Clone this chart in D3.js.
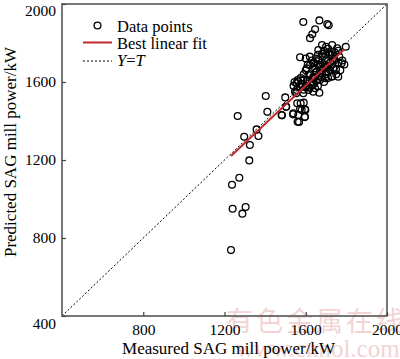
<!DOCTYPE html>
<html><head><meta charset="utf-8">
<script src="https://cdn.jsdelivr.net/npm/d3@7"></script>
<style>body{margin:0;background:#fff}svg{display:block}</style>
</head><body>
<svg id="c" width="400" height="359"></svg>
<script>
const measured = [1232,1240,1304,1288,1237,1273,1322,1325,1297,1367,1358,1265,1403,1411,1481,1499,1503,1539,1560,1563,1596,1580,1596,1558,1575,1590,1553,1537,1567,1595,1572,1598,1504,1483,
1588,1667,1706,1713,1646,1632,1621,1572,
1662,1700,1714,1755,1797,1728,1683,1765,1777,1749,1760,1728,1711,1662,1637,1621,1605,1646,1670,1695,1654,1678,1695,1670,1637,1613,1588,1563,1555,1605,1629,1572,1646,1667,1637,1613,1601,1555,1547,1588,
1640,1660,1680,1700,1720,1690,1710,1730,1740,1650,1670,1700,1720,1735,1620,1640,1660,1680,1700,1610,1630,1650,1600,1620,1580,1590,1700,1680,1720,1745,1760,1690,1740,1760,1780,1790,1770,1750,1730,1710,1690,1660,1640,1650,1630,1610,1600,1590,1575,1560,1540,1545,1620,1600,1660,1710,1730,1680];
const predicted = [738,950,959,925,1073,1109,1198,1277,1319,1323,1357,1426,1528,1447,1431,1521,1473,1440,1396,1431,1422,1456,1460,1491,1491,1494,1542,1434,1395,1420,1463,1456,1473,1429,
1908,1916,1897,1891,1870,1845,1825,1727,
1764,1781,1752,1773,1781,1738,1730,1730,1696,1665,1627,1627,1653,1713,1696,1687,1670,1670,1679,1687,1653,1645,1619,1610,1627,1636,1610,1602,1593,1593,1585,1576,1568,1545,1550,1559,1573,1559,1550,1542,
1700,1690,1700,1710,1700,1675,1680,1690,1710,1650,1660,1650,1660,1670,1640,1620,1630,1625,1640,1610,1600,1605,1580,1570,1590,1560,1740,1745,1745,1750,1760,1760,1720,1700,1710,1690,1660,1640,1630,1620,1600,1580,1590,1720,1710,1690,1660,1640,1620,1610,1580,1600,1730,1720,1740,1770,1790,1790];
const fitLine = [[1232,1220],[1790,1768]];
const identityLine = [[400,400],[2000,2000]];
const xTicks = [800,1200,1600,2000];
const yTicks = [400,800,1200,1600,2000];
const legendLabels = ["Data points","Best linear fit","Y=T"];

const svg = d3.select("#c");
const L=62,R=387,T=4,B=316;
const x = d3.scaleLinear().domain([400,2000]).range([L,R]);
const y = d3.scaleLinear().domain([400,2000]).range([B,T]);
const serif = "'Liberation Serif','Times New Roman',serif";

// watermark
svg.append("text").attr("x",226).attr("y",331).attr("font-family","'Noto Sans CJK SC',sans-serif")
  .attr("font-size",27).attr("fill","#f2d4d4").attr("letter-spacing",3).text("有色金属在线");
svg.append("text").attr("x",236).attr("y",357).attr("font-family",serif)
  .attr("font-size",25).attr("fill","#f2d4d4").text("www.cnnol.com");

// identity line
const line = d3.line().x(d=>x(d[0])).y(d=>y(d[1]));
svg.append("path").datum(identityLine).attr("d",line).attr("stroke","#000").attr("stroke-width",1)
  .attr("stroke-dasharray","2,2").attr("fill","none");

// points
const pts = measured.map((m,i)=>[m,predicted[i]]);
svg.append("g").selectAll("circle").data(pts).join("circle")
  .attr("cx",d=>x(d[0])).attr("cy",d=>y(d[1])).attr("r",3.4)
  .attr("fill","none").attr("stroke","#000").attr("stroke-width",1.3);

// fit line
svg.append("path").datum(fitLine).attr("d",line).attr("stroke","#c0282a").attr("stroke-width",2).attr("fill","none");

// frame
svg.append("rect").attr("x",L).attr("y",T).attr("width",R-L).attr("height",B-T)
  .attr("fill","none").attr("stroke","#555").attr("stroke-width",1.6);

// axes
const xa = svg.append("g").attr("transform",`translate(0,${B})`)
  .call(d3.axisBottom(x).tickValues(xTicks).tickSize(-4).tickPadding(8).tickFormat(d3.format("d")));
const ya = svg.append("g").attr("transform",`translate(${L},0)`)
  .call(d3.axisLeft(y).tickValues(yTicks).tickSize(-4).tickPadding(6).tickFormat(d3.format("d")));
[xa,ya].forEach(a=>{
  a.select(".domain").remove();
  a.selectAll("line").attr("stroke","#444").attr("stroke-width",1.2);
  a.selectAll("text").attr("font-family",serif).attr("font-size",15.5).attr("fill","#000");
});
ya.selectAll(".tick").filter(d=>d===2000).select("text").attr("dy","0.75em");
ya.selectAll(".tick").filter(d=>d===400).select("text").attr("dy","0.8em");

// axis titles
svg.append("text").attr("x",(L+R)/2+4).attr("y",354).attr("text-anchor","middle")
  .attr("font-family",serif).attr("font-size",17).text("Measured SAG mill power/kW");
svg.append("text").attr("transform",`translate(16,${(T+B)/2-8}) rotate(-90)`).attr("text-anchor","middle")
  .attr("font-family",serif).attr("font-size",17).text("Predicted SAG mill power/kW");

// legend
const lg = svg.append("g").attr("font-family",serif).attr("font-size",16.5);
lg.append("circle").attr("cx",97.5).attr("cy",25.5).attr("r",3.4).attr("fill","none").attr("stroke","#000").attr("stroke-width",1.3);
lg.append("line").attr("x1",83).attr("x2",112).attr("y1",42.5).attr("y2",42.5).attr("stroke","#c0282a").attr("stroke-width",2);
lg.append("line").attr("x1",83).attr("x2",112).attr("y1",61).attr("y2",61).attr("stroke","#000").attr("stroke-width",1).attr("stroke-dasharray","2,2");
lg.append("text").attr("x",117).attr("y",31.5).text(legendLabels[0]);
lg.append("text").attr("x",117).attr("y",48.5).text(legendLabels[1]);
const t3 = lg.append("text").attr("x",117).attr("y",66).attr("font-style","italic");
t3.append("tspan").text("Y");
t3.append("tspan").attr("font-style","normal").text("=");
t3.append("tspan").text("T");
</script>
</body></html>
